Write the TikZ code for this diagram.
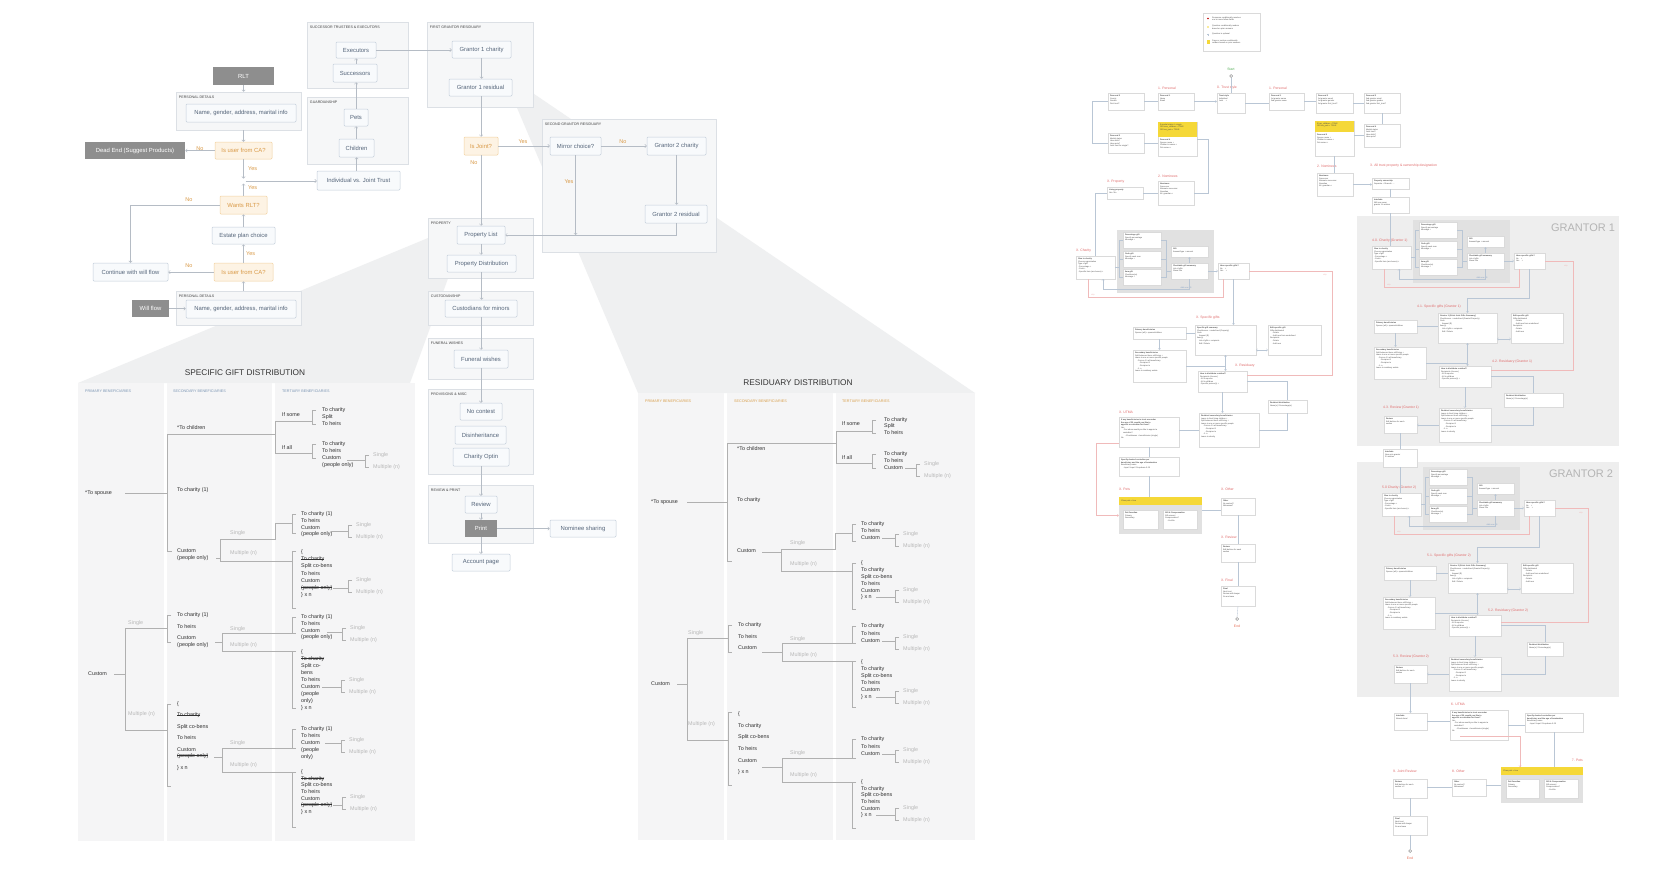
\documentclass[tikz,border=0pt]{standalone}
\usepackage{fontspec}
\setmainfont{Liberation Sans}
\usetikzlibrary{arrows.meta,calc,shadows}

\definecolor{grpbg}{HTML}{F6F7F8}
\definecolor{grpln}{HTML}{DCE0E5}
\definecolor{boxbg}{HTML}{F8FAFC}
\definecolor{boxln}{HTML}{C3CEDA}
\definecolor{boxtx}{HTML}{55657A}
\definecolor{decbg}{HTML}{FDF3E4}
\definecolor{decln}{HTML}{F2D1A0}
\definecolor{dectx}{HTML}{D99A48}
\definecolor{darkbx}{HTML}{8E8E8E}
\definecolor{arln}{HTML}{B5BCC5}
\definecolor{wedge}{HTML}{EFF0F1}
\definecolor{colbg}{HTML}{F5F5F6}
\definecolor{trln}{HTML}{B0B0B0}
\definecolor{trtx}{HTML}{2F2F2F}
\definecolor{trgr}{HTML}{B8B8B8}
\definecolor{hdblue}{HTML}{7C96B4}
\definecolor{hdorng}{HTML}{D9A04E}
\definecolor{panel}{HTML}{EEEEEE}
\definecolor{inner}{HTML}{E1E1E1}
\definecolor{secred}{HTML}{E06A6A}
\definecolor{skipred}{HTML}{F0BABA}
\definecolor{yel}{HTML}{F5D838}
\definecolor{cardln}{HTML}{DADADA}
\definecolor{cdln}{HTML}{B9C6D5}
\definecolor{addbl}{HTML}{86A2C6}
\definecolor{startgr}{HTML}{4DAA50}
\definecolor{grant}{HTML}{B4B4B4}

\tikzset{
 grp/.style={draw=grpln,fill=grpbg,line width=0.5pt,inner sep=0pt},
 grplbl/.style={font=\fontsize{3.6}{4}\selectfont,text=black!75,anchor=north west,inner sep=0pt},
 bx/.style={draw=boxln,fill=boxbg,rounded corners=1pt,text=boxtx,font=\fontsize{5.9}{7}\selectfont,inner sep=0pt,line width=0.5pt},
 dec/.style={bx,draw=decln,fill=decbg,text=dectx},
 dk/.style={bx,draw=none,fill=darkbx,text=white,rounded corners=0pt},
 ar/.style={draw=arln,line width=0.5pt,-{Straight Barb[length=1.6pt,width=3.2pt]}},
 yn/.style={text=dectx,font=\fontsize{5.5}{6}\selectfont,inner sep=0pt},
 tl/.style={draw=trln,line width=0.5pt},
 tt/.style={text=trtx,font=\fontsize{5.4}{6}\selectfont,inner sep=0pt,anchor=west},
 tg/.style={tt,text=trgr},
 colhd/.style={font=\fontsize{3.7}{4}\selectfont,inner sep=0pt,anchor=west},
 ttl/.style={font=\fontsize{8.3}{9}\selectfont,text=black!80,inner sep=0pt},
 crd/.style={draw=cardln,fill=white,line width=0.3pt,inner sep=0pt,drop shadow={shadow xshift=0.3pt,shadow yshift=-0.6pt,opacity=0.12}},
 crdtx/.style={font=\fontsize{2}{2.6}\selectfont,text=black!70,inner sep=0pt,align=left,anchor=north west},
 sec/.style={text=secred,font=\fontsize{3.4}{4}\selectfont,inner sep=0pt,anchor=west},
 cl/.style={draw=cdln,line width=0.35pt},
 cn/.style={cl,-{Straight Barb[length=1.2pt,width=2.4pt]}},
 cnb/.style={cl,{Straight Barb[length=1.2pt,width=2.4pt]}-{Straight Barb[length=1.2pt,width=2.4pt]}},
 sk/.style={draw=skipred,line width=0.35pt},
 skl/.style={text=skipred,font=\fontsize{2}{2.4}\selectfont,inner sep=0pt},
 pgrp/.style={fill=inner,inner sep=0pt},
}

% struck-through words
\newlength{\strkw}
\newcommand{\strk}[1]{\settowidth{\strkw}{#1}\rlap{\rule[0.55ex]{\strkw}{0.35pt}}#1}
% box from its two corners
\newcommand{\nd}[6]{\node[#1,minimum width={(#5)-(#3)},minimum height={(#6)-(#4)}] (#2) at ({((#3)+(#5))/2},{((#4)+(#6))/2})}
% white card with small text
\newcommand{\crd}[6]{\node[crd,minimum width={(#4)-(#2)},minimum height={(#5)-(#3)}] (#1) at ({((#2)+(#4))/2},{((#3)+(#5))/2}) {};
 \node[crdtx] (#1t) at (#2+1.8,#3+1.8) {#6};}
% card with a yellow condition on top
\newcommand{\ycrd}[8]{\node[crd,minimum width={(#4)-(#2)},minimum height={(#5)-(#3)}] (#1) at ({((#2)+(#4))/2},{((#3)+(#5))/2}) {};
 \fill[yel] (#2,#3) rectangle (#4,#6);
 \node[crdtx] (#1h) at (#2+1.8,#3+1.5) {#7};
 \node[crdtx] (#1t) at (#2+1.8,#6+2) {#8};}
% tree helpers
\newcommand{\brk}[3]{\draw[tl] (#1+4,#2) -- (#1,#2) -- (#1,#3) -- (#1+4,#3);}
\newcommand{\sm}[3]{\brk{#2}{#3-6}{#3+6}\node[tg] (#1s) at (#2+8,#3-6) {Single};\node[tg] (#1m) at (#2+8,#3+6) {Multiple (n)};}
\newcommand{\items}[5]{\foreach \t [count=\i] in {#5} \node[tt] (#1\i) at (#2,{#3+(\i-1)*#4}) {\t};}
% charity cluster, local coordinates
\newcommand{\charity}[2]{%
 \fill[inner] (41,-26) rectangle (138,37);
 \node[sec] (#1lb) at (0,-5) {#2};
 \crd{#1gtc}{0}{0}{39}{23}{\textbf{Give to charity}\\Choose organization\\Type of gift\\- Percentage +\\- Cash +\\- Specific item (as chosen) +}
 \crd{#1pg}{47}{-24}{85}{-8}{\textbf{Percentage gift}\\Specify percentage\\Message +}
 \crd{#1cg}{47}{-5}{85}{11}{\textbf{Cash gift}\\Specify cash sum\\Message +}
 \crd{#1ig}{47}{13}{85}{29}{\textbf{Item gift}\\Checkbox(es)\\Message +}
 \crd{#1gf}{95}{-10}{132}{1}{\textbf{Gift}\\Amount/type + amount}
 \crd{#1cs}{95}{7}{132}{23}{\textbf{Charitable gift summary}\\List of gifts\\Share info}
 \crd{#1hs}{142}{7}{173}{23}{\textbf{Have specific gifts?}\\No \quad +\\Yes \quad +}
 \node[font=\fontsize{2}{2.4}\selectfont,text=addbl,inner sep=0pt] (#1ad) at (110,32) {Add new gift};
 \foreach \g in {pg,cg,ig} {\draw[cl] (#1gtc.east) -- (43,11.5) |- (#1\g.west); \draw[cl] (#1\g.east) -- ++(5,0) |- (#1cs.west);}
 \draw[cn] (#1cs.north) -- (#1gf.south);
 \draw[cn] (#1cs.east) -- (#1hs.west);
 \draw[cn] (#1cs.south) -- ++(0,10) -| (27,23);
 \draw[sk] (12,23) -- (12,41) -- (147,41) -- (147,23);
 \node[skl] (#1sk) at (17,38.5) {skip};
}

\begin{document}
\begin{tikzpicture}[x=1pt,y=-1pt]
\useasboundingbox (0,0) rectangle (1669,873);
\fill[white] (0,0) rectangle (1669,873);
% zoom wedges and the two distribution panels
\fill[wedge] (457,226) -- (462,240) -- (410,383) -- (78,383) -- cycle;
\fill[wedge] (512,79) -- (975,393) -- (638,393) -- (512,96) -- cycle;
\foreach \a/\b in {78/164,167/272,275/415} \fill[colbg] (\a,383) rectangle (\b,841);
\foreach \a/\b in {638/724,727/833,836/975} \fill[colbg] (\a,393) rectangle (\b,840);

% groups of the main flow
\foreach \n/\a/\b/\c/\d/\l in {gPD1/176/92/301/130/PERSONAL DETAILS, gPD2/176/291/301/325/PERSONAL DETAILS,
  gSTE/307/22/408/88/SUCCESSOR TRUSTEES \& EXECUTORS, gGRD/307/97/408/164/GUARDIANSHIP,
  gFGR/427/22/533/107/FIRST GRANTOR RESIDUARY, gSGR/542/119/716/252/SECOND GRANTOR RESIDUARY,
  gPRP/428/218/533/278/PROPERTY, gCST/428/291/533/325/CUSTODIANSHIP, gFUN/428/338/533/379/FUNERAL WISHES,
  gPRV/428/389/533/474/PROVISIONS \& MISC, gREV/428/485/533/543/REVIEW \& PRINT}
 {\nd{grp}{\n}{\a}{\b}{\c}{\d} {}; \node[grplbl] (l\n) at ($(\n.north west)+(3,4)$) {\l};}

\nd{dk}{rlt}{213}{67}{274}{85} {RLT};
\nd{bx}{name1}{186}{104}{296}{122} {Name, gender, address, marital info};
\nd{dec}{ca1}{215}{142}{272}{159} {Is user from CA?};
\nd{dk}{dead}{85}{142}{185}{159} {Dead End (Suggest Products)};
\nd{dec}{want}{220}{196}{267}{214} {Wants RLT?};
\nd{bx}{estate}{212}{227}{275}{244} {Estate plan choice};
\nd{dec}{ca2}{214}{263}{273}{281} {Is user from CA?};
\nd{bx}{cont}{93}{263}{168}{281} {Continue with will flow};
\nd{bx}{name2}{186}{300}{296}{318} {Name, gender, address, marital info};
\nd{dk}{will}{132}{300}{169}{317} {Will flow};
\nd{bx}{ivj}{317}{171}{400}{190} {Individual vs. Joint Trust};
\nd{bx}{chil}{339}{139}{374}{157} {Children};
\nd{bx}{pets}{344}{109}{368}{126} {Pets};
\nd{bx}{succ}{333}{64}{377}{82} {Successors};
\nd{bx}{exec}{336}{42}{376}{58} {Executors};
\nd{bx}{g1c}{452}{41}{511}{58} {Grantor 1 charity};
\nd{bx}{g1r}{449}{79}{512}{96} {Grantor 1 residual};
\nd{dec}{joint}{464}{137}{498}{155} {Is Joint?};
\nd{bx}{mirror}{550}{137}{601}{155} {Mirror choice?};
\nd{bx}{g2c}{647}{137}{706}{155} {Grantor 2 charity};
\nd{bx}{g2r}{645}{205}{707}{223} {Grantor 2 residual};
\nd{bx}{plist}{457}{226}{505}{244} {Property List};
\nd{bx}{pdist}{447}{255}{516}{272} {Property Distribution};
\nd{bx}{cust}{445}{300}{517}{317} {Custodians for minors};
\nd{bx}{fun}{454}{350}{508}{368} {Funeral wishes};
\nd{bx}{noc}{460}{403}{502}{420} {No contest};
\nd{bx}{dis}{455}{426}{506}{444} {Disinheritance};
\nd{bx}{chop}{453}{448}{509}{466} {Charity Optin};
\nd{bx}{rev}{465}{496}{497}{513} {Review};
\nd{dk}{print}{465}{520}{497}{537} {Print};
\nd{bx}{nom}{550}{520}{616}{537} {Nominee sharing};
\nd{bx}{acct}{452}{554}{510}{571} {Account page};

\coordinate (jn) at (243.5,181);
\coordinate (mj) at (575.5,235);
\draw[ar] (rlt.south) -- (rlt.south |- gPD1.north);
\draw[ar] (ca1.north |- gPD1.south) -- (ca1.north);
\draw[ar] (ca1.west) -- (dead.east);
\draw[ar] (ca1.south) -- ($(jn)+(0,-2.5)$);
\draw[ar] (want.north) -- ($(jn)+(0,2.5)$);
\draw[ar] ($(jn)+(2,0)$) -- (jn -| ivj.west);
\draw[ar] (want.west) -| (cont.north);
\draw[ar] (estate.north) -- (want.south);
\draw[ar] (ca2.north) -- (ca2.north |- estate.south);
\draw[ar] (ca2.west) -- (cont.east);
\draw[ar] (ca2.south |- gPD2.north) -- (ca2.south);
\draw[ar] (will.east) -- (will.east -| name2.west);
\draw[ar] (chil.south |- ivj.north) -- (chil.south);
\draw[ar] (pets.south |- chil.north) -- (pets.south);
\draw[ar] (pets.north) -- (pets.north |- succ.south);
\draw[ar] (exec.south |- succ.north) -- (exec.south);
\draw[ar] (exec.east) -- (exec.east -| g1c.west);
\draw[ar] (g1c.south) -- (g1c.south |- g1r.north);
\draw[ar] (joint.north |- g1r.south) -- (joint.north);
\draw[ar] (joint.east) -- (mirror.west);
\draw[ar] (joint.south) -- (joint.south |- plist.north);
\draw[ar] (mirror.east) -- (g2c.west);
\draw[ar] (mirror.south) -- (mj);
\draw[ar] (g2c.south) -- (g2c.south |- g2r.north);
\draw[ar] (g2r.south) |- (plist.east);
\draw[ar] (plist.south) -- (plist.south |- pdist.north);
\draw[ar] (pdist.south) -- (pdist.south |- cust.north);
\draw[ar] (cust.south) -- (cust.south |- fun.north);
\draw[ar] (fun.south) -- (fun.south |- noc.north);
\draw[ar] (chop.south) -- (chop.south |- rev.north);
\draw[ar] (rev.south) -- (print.north);
\draw[ar] (print.east) -- (nom.west);
\draw[ar] (print.south) -- (print.south |- acct.north);
\node[yn] (yn1) at (200,149) {No};
\node[yn,anchor=west] (yn2) at (248,169) {Yes};
\node[yn,anchor=west] (yn3) at (248,188) {Yes};
\node[yn] (yn4) at (189,200) {No};
\node[yn,anchor=west] (yn5) at (246,254) {Yes};
\node[yn] (yn6) at (189,266) {No};
\node[yn] (yn7) at (523,142) {Yes};
\node[yn] (yn8) at (474,163) {No};
\node[yn] (yn9) at (623,142) {No};
\node[yn] (yn10) at (569,182) {Yes};

% specific gift distribution
\node[ttl] (tsg) at (245,373) {SPECIFIC GIFT DISTRIBUTION};
\node[colhd,text=hdblue] (hs1) at (85,391) {PRIMARY BENEFICIARIES};
\node[colhd,text=hdblue] (hs2) at (173,391) {SECONDARY BENEFICIARIES};
\node[colhd,text=hdblue] (hs3) at (282,391) {TERTIARY BENEFICIARIES};
\node[tt] (ss0) at (85,493) {*To spouse};
\draw[tl] (125,493) -- (167,493);
\draw[tl] (275,434) -- (167,434) -- (167,551) -- (172,551);
\node[tt] (ss1) at (177,428) {*To children};
\node[tt] (ss2) at (177,490) {To charity (1)};
\items{ss3}{177}{551}{7}{Custom,(people only)}
\draw[tl] (216,558) -- (220,558);
\draw[tl] (292,523) -- (275,523) -- (275,539) -- (220,539) -- (220,561) -- (292,561);
\node[tg] (ss4) at (230,533) {Single};
\node[tg] (ss5) at (230,553) {Multiple (n)};
\brk{292}{514}{533}
\items{ssa}{301}{514}{6.7}{To charity (1),To heirs,Custom,(people only)}
\draw[tl] (331,531) -- (348,531); \sm{ssam}{348}{531}
\brk{292}{551}{608}
\items{ssb}{301}{552}{7.2}{\{,\strk{To charity},Split co-bens,To heirs,Custom,\strk{(people only)},\} x n}
\draw[tl] (333,588) -- (348,588); \sm{ssbm}{348}{586}
\draw[tl] (312,421) -- (275,421) -- (275,453) -- (312,453);
\node[tt] (ss6) at (282,415) {If some};
\node[tt] (ss7) at (282,448) {If all};
\brk{312}{410}{424} \items{ssc}{322}{410}{7}{To charity,Split,To heirs}
\brk{312}{444}{458} \items{ssd}{322}{444}{7}{To charity,To heirs,Custom,(people only)}
\draw[tl] (347,460) -- (365,460); \sm{ssdm}{365}{461}
% the custom primary branch
\node[tt] (sc0) at (88,674) {Custom};
\draw[tl] (114,674) -- (125,674);
\draw[tl] (167,628) -- (125,628) -- (125,730) -- (167,730);
\node[tg] (sc1) at (128,623) {Single};
\node[tg] (sc2) at (128,714) {Multiple (n)};
\brk{167}{615}{642} \items{sce}{177}{615}{11.5}{To charity (1),To heirs,Custom}
\node[tt] (sc3) at (177,645) {(people only)};
\draw[tl] (215,642) -- (222,642);
\draw[tl] (292,633) -- (222,633) -- (222,651) -- (292,651);
\node[tg] (sc4) at (230,629) {Single};
\node[tg] (sc5) at (230,645) {Multiple (n)};
\brk{292}{617}{633} \items{scf}{301}{617}{6.7}{To charity (1),To heirs,Custom,(people only)}
\draw[tl] (327,632) -- (342,632); \sm{scfm}{342}{634}
\brk{292}{651}{708} \items{scg}{301}{652}{7}{\{,\strk{To charity},Split co-,bens,To heirs,Custom,{(people},{only)},\} x n}
\draw[tl] (322,687) -- (341,687); \sm{scgm}{341}{686}
\brk{167}{704}{786} \items{sch}{177}{704}{11.3}{\{,\strk{To charity},Split co-bens,To heirs,Custom}
\node[tt] (sc6) at (177,756) {\strk{(people only)}};
\node[tt] (sc7) at (177,768) {\} x n};
\draw[tl] (214,757) -- (222,757);
\draw[tl] (292,748) -- (222,748) -- (222,772) -- (292,772);
\node[tg] (sc8) at (230,743) {Single};
\node[tg] (sc9) at (230,765) {Multiple (n)};
\brk{292}{729}{748} \items{sci}{301}{729}{7}{To charity (1),To heirs,Custom,{(people},{only)}}
\draw[tl] (325,743) -- (341,743); \sm{scim}{341}{746}
\brk{292}{772}{827} \items{scj}{301}{772}{6.6}{\{,\strk{To charity},Split co-bens,To heirs,Custom,\strk{(people only)},\} x n}
\draw[tl] (333,805) -- (342,805); \sm{scjm}{342}{803}

% residuary distribution
\node[ttl] (trd) at (798,383) {RESIDUARY DISTRIBUTION};
\node[colhd,text=hdorng] (hr1) at (645,401) {PRIMARY BENEFICIARIES};
\node[colhd,text=hdorng] (hr2) at (734,401) {SECONDARY BENEFICIARIES};
\node[colhd,text=hdorng] (hr3) at (842,401) {TERTIARY BENEFICIARIES};
\node[tt] (rs0) at (651,502) {*To spouse};
\draw[tl] (687,502) -- (727,502);
\draw[tl] (836,443) -- (727,443) -- (727,561) -- (732,561);
\node[tt] (rs1) at (737,449) {*To children};
\node[tt] (rs2) at (737,500) {To charity};
\node[tt] (rs3) at (737,551) {Custom};
\draw[tl] (762,552) -- (781,552);
\draw[tl] (852,533) -- (835,533) -- (835,549) -- (781,549) -- (781,571) -- (852,571);
\node[tg] (rs4) at (790,543) {Single};
\node[tg] (rs5) at (790,564) {Multiple (n)};
\draw[tl] (872,431) -- (836,431) -- (836,463) -- (872,463);
\node[tt] (rs6) at (842,424) {If some};
\node[tt] (rs7) at (842,458) {If all};
\brk{872}{420}{433} \items{rsa}{884}{420}{6.5}{To charity,Split,To heirs}
\brk{872}{454}{468} \items{rsb}{884}{454}{7}{To charity,To heirs,Custom}
\draw[tl] (905,468) -- (916,468); \sm{rsbm}{916}{470}
\brk{852}{524}{541} \items{rsc}{861}{524}{7}{To charity,To heirs,Custom}
\draw[tl] (882,538) -- (895,538); \sm{rscm}{895}{540}
\brk{852}{563}{609} \items{rsd}{861}{563}{6.8}{\{,To charity,Split co-bens,To heirs,Custom,\} x n}
\draw[tl] (876,597) -- (895,597); \sm{rsdm}{895}{596}
\node[tt] (rc0) at (651,684) {Custom};
\draw[tl] (677,684) -- (687,684);
\draw[tl] (728,638) -- (687,638) -- (687,740) -- (728,740);
\node[tg] (rc1) at (688,633) {Single};
\node[tg] (rc2) at (688,724) {Multiple (n)};
\brk{728}{625}{652} \items{rse}{738}{625}{11.5}{To charity,To heirs,Custom}
\draw[tl] (762,652) -- (782,652);
\draw[tl] (852,643) -- (782,643) -- (782,661) -- (852,661);
\node[tg] (rc3) at (790,639) {Single};
\node[tg] (rc4) at (790,655) {Multiple (n)};
\brk{852}{626}{643} \items{rsf}{861}{626}{7.3}{To charity,To heirs,Custom}
\draw[tl] (882,641) -- (895,641); \sm{rsfm}{895}{643}
\brk{852}{661}{707} \items{rsg}{861}{662}{7}{\{,To charity,Split co-bens,To heirs,Custom,\} x n}
\draw[tl] (876,697) -- (895,697); \sm{rsgm}{895}{697}
\brk{728}{712}{785} \items{rsh}{738}{714}{11.6}{\{,To charity,Split co-bens,To heirs,Custom,\} x n}
\draw[tl] (762,767) -- (782,767);
\draw[tl] (852,758) -- (782,758) -- (782,782) -- (852,782);
\node[tg] (rc5) at (790,753) {Single};
\node[tg] (rc6) at (790,775) {Multiple (n)};
\brk{852}{739}{758} \items{rsi}{861}{739}{7.5}{To charity,To heirs,Custom}
\draw[tl] (882,754) -- (895,754); \sm{rsim}{895}{756}
\brk{852}{782}{828} \items{rsj}{861}{782}{6.6}{\{,To charity,Split co-bens,To heirs,Custom,\} x n}
\draw[tl] (876,815) -- (895,815); \sm{rsjm}{895}{814}

% questionnaire map, right half
\fill[panel] (1357,216) rectangle (1619,446);
\fill[panel] (1357,462) rectangle (1619,697);
\node[font=\fontsize{11}{12}\selectfont,text=grant,inner sep=0pt] (gt1) at (1583,228) {GRANTOR 1};
\node[font=\fontsize{11}{12}\selectfont,text=grant,inner sep=0pt] (gt2) at (1581,474) {GRANTOR 2};

\crd{leg}{1203}{13}{1260}{51}{}
\fill[red!75!black] (1208,18.5) circle (0.9);
\node[crdtx] (lg1) at (1212,16.5) {Response conditionally resolves\\one or more follow fields};
\fill[yel] (1208,27) circle (0.9);
\node[crdtx] (lg2) at (1212,25) {Question conditionally renders\\based on prior answers};
\draw[cdln,line width=0.4pt] (1207,34.5) -- (1209,34.5) (1208,33.5) -- (1208,35.5);
\node[crdtx] (lg3) at (1212,33.2) {Question is optional};
\fill[yel] (1206.5,39.5) rectangle (1209.5,44);
\node[crdtx] (lg4) at (1212,39.5) {Page or section conditionally\\renders based on prior answers};

\node[text=startgr,font=\fontsize{3.4}{4}\selectfont,inner sep=0pt] (stl) at (1231,69) {Start};
\node[circle,draw=black!55,line width=0.35pt,inner sep=0pt,minimum size=3pt] (st) at (1231,76) {};
\node[sec] (s1a) at (1158,88) {1. Personal};
\node[sec] (s0) at (1217,88) {0. Trust style};
\node[sec] (s1b) at (1269,88) {1. Personal};
\node[sec] (s2a) at (1158,176) {2. Nominees};
\node[sec] (sxp) at (1107,182) {X. Property};
\node[sec] (s2b) at (1317,166) {2. Nominees};
\node[sec] (s3) at (1370,166) {3. All trust property \& ownership designation};

\crd{p2l}{1108}{93}{1144}{110}{\textbf{Personal 2}\\County\\Gender\\First trust?}
\crd{p1l}{1158}{93}{1194}{110}{\textbf{Personal 1}\\Name\\Email}
\crd{ts}{1217}{93}{1245}{113}{\textbf{Trust style}\\Individual\\Joint \quad +}
\crd{p1r}{1269}{93}{1304}{110}{\textbf{Personal 1}\\1st grantor name\\2nd grantor name}
\crd{p2r}{1316}{93}{1353}{113}{\textbf{Personal 2}\\1st grantor email\\1st grantor gender\\1st grantor first\_trust?}
\crd{p3r}{1364}{93}{1400}{113}{\textbf{Personal 3}\\2nd grantor email\\2nd grantor gender\\2nd grantor first\_trust?}
\crd{p3l}{1108}{133}{1144}{153}{\textbf{Personal 3}\\Marital status\\Have kids?\\Have pets?\\Joint trust for single?}
\ycrd{y4l}{1158}{122}{1197}{156}{137}{If marital status != single\\OR have\_children = TRUE\\OR has\_pets = TRUE}{\textbf{Personal 4}\\Spouse name +\\Children's names +\\Pet names +}
\ycrd{y4r}{1315}{121}{1354}{156}{132}{If has\_children = TRUE\\OR has\_pets = TRUE}{\textbf{Personal 5}\\Spouse name +\\Children's names +\\Pet names +}
\crd{p4r}{1364}{124}{1400}{147}{\textbf{Personal 4}\\Marital status\\Joint trust?\\Have kids?\\Have pets?}
\crd{nml}{1158}{181}{1194}{205}{\textbf{Nominees}\\Successor\\Alternate successor\\Guardian\\Alt. guardian +}
\crd{liv}{1107}{187}{1143}{199}{\textbf{Living property}\\Yes / No}
\crd{nmr}{1317}{173}{1353}{196}{\textbf{Nominees}\\Successor\\Alternate successor\\Guardian\\Alt. guardian +}
\crd{pow}{1372}{178}{1409}{189}{\textbf{Property ownership}\\Separate + Shared + ...}
\crd{itr}{1372}{197}{1409}{213}{\textbf{Interlude}\\Will now cover\\grantor 1's wishes}

\begin{scope}[shift={(1076,256)}]\charity{x}{X. Charity}\end{scope}
\begin{scope}[shift={(1372,246)}]\charity{ga}{4.0. Charity (Grantor 1)}\end{scope}
\begin{scope}[shift={(1382,493)}]\charity{gb}{5.0 Charity (Grantor 2)}\end{scope}

% single trust column
\node[sec] (sxs) at (1196,318) {X. Specific gifts};
\crd{xpb}{1133}{327}{1186}{339}{\textbf{Primary beneficiaries}\\Spouse (all) + spouse/children}
\crd{xsgs}{1195}{325}{1256}{355}{\textbf{Specific gift summary}\\Checkboxes + underlined (Property)\\Cash\\\quad Amount (\$)\\Item(s)\\\quad List of gifts + recipients\\\quad Edit / Delete}
\crd{xesg}{1268}{325}{1321}{355}{\textbf{Edit specific gift}\\Gifts distributed\\\quad - Delete\\\quad - Add new from underlined\\Recipients\\\quad - Delete\\\quad - Add new}
\crd{xsb}{1133}{350}{1186}{382}{\textbf{Secondary beneficiaries}\\Split between those still living +\\Leave to one or more specific people\\\quad - Person 1's all-beneficiary\\\quad\quad - Recipient 1\\\quad\quad - Recipient n\\\quad - 1..n\\Leave to residuary estate}
\node[sec] (sxr) at (1235,366) {X. Residuary};
\crd{xhtd}{1198}{371}{1247}{392}{\textbf{How to distribute residual?}\\Recipients (choose)\\- All to spouse\\- All to children\\- Specific person(s) +}
\crd{xrd}{1268}{400}{1307}{413}{\textbf{Residual distribution}\\Name(s) / Percentage(s)}
\node[sec] (sxu) at (1119,412) {X. UTMA};
\crd{xut}{1119}{417}{1179}{447}{\textbf{If any beneficiaries in trust are under}\\\textbf{the age of 25, would you like to}\\\textbf{appoint a custodian for them?}\\Yes\\\quad - For whom would you like to appoint a\\\quad custodian?\\\quad\quad - Checkboxes + beneficiaries (single)\\No}
\crd{xrsb}{1199}{413}{1259}{447}{\textbf{Residual secondary beneficiaries}\\Leave to their living children +\\Split between those still living +\\Leave to one or more specific people\\\quad - Person 1's all-beneficiary\\\quad\quad - Recipient 1\\\quad\quad - Recipient n\\\quad - 1..n\\Leave to charity}
\crd{xsd}{1119}{457}{1179}{476}{\textbf{Specify desired custodian per}\\\textbf{beneficiary and the age of termination}\\Beneficiary name\\\quad - Input / Input / Dropdown 0-25}
\node[sec] (sxpt) at (1119,489) {X. Pets};
\nd{pgrp}{xpet}{1119}{497}{1202}{534} {};
\fill[yel] (1119,497) rectangle (1202,505);
\node[crdtx] (xpeth) at (1121,499.5) {If has pets = true};
\crd{xpgd}{1123}{510}{1158}{529}{\textbf{Pet Guardian}\\Primary\\Secondary}
\crd{xgcp}{1163}{510}{1197}{529}{\textbf{Gift \& Compensation}\\Gift amount\\Compensation?\\\quad - Yes/No}
\node[sec] (sxo) at (1221,489) {X. Other};
\crd{xoth}{1221}{498}{1255}{515}{\textbf{Other}\\No contest?\\Witnesses?}
\node[sec] (sxv) at (1221,537) {X. Review};
\crd{xrvw}{1221}{544}{1255}{562}{\textbf{Review}\\Edit buttons for each\\section}
\node[sec] (sxf) at (1221,580) {X. Final};
\crd{xfin}{1221}{586}{1255}{606}{\textbf{Final}\\Next trust\\Review with lawyer\\Go and save}
\node[circle,draw=black!55,line width=0.35pt,inner sep=0pt,minimum size=3pt] (xend) at (1237,619) {};
\node[text=secred!80!orange,font=\fontsize{3.4}{4}\selectfont,inner sep=0pt] (xendl) at (1237,626) {End};

% grantor 1
\node[sec] (sa1) at (1417,307) {4.1. Specific gifts (Grantor 1)};
\crd{gapb}{1374}{320}{1417}{333}{\textbf{Primary beneficiaries}\\Spouse (all) + spouse/children}
\crd{gags}{1438}{313}{1497}{343}{\textbf{Grantor 1 (Stick Joint Gifts Summary)}\\Checkboxes + underlined (Grantor/Property)\\Cash\\\quad Amount (\$)\\Item(s)\\\quad List of gifts + recipients\\\quad Edit / Delete}
\crd{gaes}{1511}{313}{1563}{343}{\textbf{Edit specific gift}\\Gifts distributed\\\quad - Delete\\\quad - Add new from underlined\\Recipients\\\quad - Delete\\\quad - Add new}
\crd{gasb}{1374}{347}{1426}{379}{\textbf{Secondary beneficiaries}\\Split between those still living +\\Leave to one or more specific people\\\quad - Person 1's all-beneficiary\\\quad\quad - Recipient 1\\\quad\quad - Recipient n\\\quad - 1..n\\Leave to residuary estate}
\node[sec] (sa2) at (1492,362) {4.2. Residuary (Grantor 1)};
\crd{gahd}{1439}{366}{1491}{387}{\textbf{How to distribute residual?}\\Recipients (choose)\\- All to spouse\\- All to children\\- Specific person(s) +}
\crd{gard}{1504}{393}{1563}{407}{\textbf{Residual distribution}\\Name(s) / Percentage(s)}
\node[sec] (sa3) at (1383,408) {4.3. Review (Grantor 1)};
\crd{garv}{1384}{416}{1417}{433}{\textbf{Review}\\Edit buttons for each\\section}
\crd{gars}{1439}{408}{1491}{442}{\textbf{Residual secondary beneficiaries}\\Leave to their living children +\\Split between those still living +\\Leave to one or more specific people\\\quad - Person 1's all-beneficiary\\\quad\quad - Recipient 1\\\quad\quad - Recipient n\\\quad - 1..n\\Leave to charity}
\crd{gain}{1383}{449}{1417}{467}{\textbf{Interlude}\\Now onto grantor\\2's wishes}

% grantor 2
\node[sec] (sb1) at (1427,556) {5.1. Specific gifts (Grantor 2)};
\crd{gbpb}{1384}{566}{1436}{580}{\textbf{Primary beneficiaries}\\Spouse (all) + spouse/children}
\crd{gbgs}{1448}{563}{1507}{593}{\textbf{Grantor 2 (Stick Joint Gifts Summary)}\\Checkboxes + underlined (Grantor/Property)\\Cash\\\quad Amount (\$)\\Item(s)\\\quad List of gifts + recipients\\\quad Edit / Delete}
\crd{gbes}{1521}{563}{1573}{593}{\textbf{Edit specific gift}\\Gifts distributed\\\quad - Delete\\\quad - Add new from underlined\\Recipients\\\quad - Delete\\\quad - Add new}
\crd{gbsb}{1383}{597}{1435}{629}{\textbf{Secondary beneficiaries}\\Split between those still living +\\Leave to one or more specific people\\\quad - Person 1's all-beneficiary\\\quad\quad - Recipient 1\\\quad\quad - Recipient n\\\quad - 1..n\\Leave to residuary estate}
\node[sec] (sb2) at (1488,611) {5.2. Residuary (Grantor 2)};
\crd{gbhd}{1449}{615}{1501}{636}{\textbf{How to distribute residual?}\\Recipients (choose)\\- All to spouse\\- All to children\\- Specific person(s) +}
\crd{gbrd}{1527}{642}{1563}{656}{\textbf{Residual distribution}\\Name(s) / Percentage(s)}
\node[sec] (sb3) at (1393,657) {5.3. Review (Grantor 2)};
\crd{gbrv}{1394}{665}{1427}{683}{\textbf{Review}\\Edit buttons for each\\section}
\crd{gbrs}{1449}{657}{1501}{691}{\textbf{Residual secondary beneficiaries}\\Leave to their living children +\\Split between those still living +\\Leave to one or more specific people\\\quad - Person 1's all-beneficiary\\\quad\quad - Recipient 1\\\quad\quad - Recipient n\\\quad - 1..n\\Leave to charity}
\crd{gbin}{1394}{713}{1427}{730}{\textbf{Interlude}\\Almost done!}
\node[sec] (sb6) at (1451,704) {6. UTMA};
\crd{gbut}{1450}{710}{1508}{740}{\textbf{If any beneficiaries in trust are under}\\\textbf{the age of 25, would you like to}\\\textbf{appoint a custodian for them?}\\Yes\\\quad - For whom would you like to appoint a\\\quad custodian?\\\quad\quad - Checkboxes + beneficiaries (single)\\No}
\crd{gbsd}{1525}{713}{1583}{732}{\textbf{Specify desired custodian per}\\\textbf{beneficiary and the age of termination}\\Beneficiary name\\\quad - Input / Input / Dropdown 0-25}
\node[sec,anchor=east] (sb7) at (1583,760) {7. Pets};
\nd{pgrp}{gbpt}{1501}{767}{1583}{803} {};
\fill[yel] (1501,767) rectangle (1583,775);
\node[crdtx] (gbpth) at (1503,769.5) {If has pets = true};
\crd{gbpg}{1506}{779}{1539}{798}{\textbf{Pet Guardian}\\Primary\\Secondary}
\crd{gbgc}{1544}{779}{1578}{798}{\textbf{Gift \& Compensation}\\Gift amount\\Compensation?\\\quad - Yes/No}
\node[sec] (sb9) at (1393,771) {9. Joint Review};
\node[sec] (sb8) at (1452,771) {8. Other};
\crd{gbrj}{1393}{779}{1427}{798}{\textbf{Review}\\Edit buttons for each\\section x 2}
\crd{gbot}{1452}{779}{1486}{796}{\textbf{Other}\\No contest?\\Witnesses?}
\crd{gbfn}{1393}{816}{1427}{835}{\textbf{Final}\\Next trust\\Review with lawyer\\Go and save}
\node[circle,draw=black!55,line width=0.35pt,inner sep=0pt,minimum size=3pt] (gbend) at (1410,851) {};
\node[text=secred!80!orange,font=\fontsize{3.4}{4}\selectfont,inner sep=0pt] (gbendl) at (1410,858) {End};

% connectors of the map
\draw[cl] (st.south) -- (ts.north);
\draw[cl] (p1l.west) -- (p2l.east);
\draw[cl] (p2l.west) -- ++(-16,0) |- (p3l.west);
\draw[cl] (p3l.east) -- (p3l.east -| y4l.west);
\draw[cl] (y4l.east) -- ++(11,0) |- (nml.east);
\draw[cl] (nml.west) -- (nml.west -| liv.east);
\draw[cl] (liv.west) -| (xgtc.north);
\draw[cn] (p1l.east) -- (p1l.east -| ts.west);
\draw[cl] (ts.east) -- (ts.east -| p1r.west);
\draw[cl] (p1r.east) -- (p1r.east -| p2r.west);
\draw[cl] (p2r.east) -- (p2r.east -| p3r.west);
\draw[cl] (p3r.south) -- (p4r.north);
\draw[cl] (p4r.west) -- (p4r.west -| y4r.east);
\draw[cl] (y4r.south) -- (y4r.south |- nmr.north);
\draw[cn] (nmr.east) -- (nmr.east -| pow.west);
\draw[cl] (pow.south) -- (itr.north);
\draw[cl] (itr.south) -- (itr.south |- gagtc.north);
% single trust column
\draw[cn] (xhs.south) -- (xhs.south |- xsgs.north);
\draw[sk] (xhs.east) -| (1332,375) -- (1247,375);
\node[skl] (xsk2) at (1325,275) {skip};
\draw[cl] (xpb.east) -- (xpb.east -| xsgs.west);
\draw[cn] (xpb.south) -- (xpb.south |- xsb.north);
\draw[cn] (xsb.east) -| (xsgs.south);
\draw[cnb] ([yshift=-10pt]xsgs.east) -- ([yshift=-10pt]xsgs.east -| xesg.west);
\draw[cn] (xsgs.south) -- (xsgs.south |- xhtd.north);
\draw[cn] (xhtd.south) -- (xhtd.south |- xrsb.north);
\draw[cl] (xhtd.east) -| (xrd.north);
\draw[cl] (xrd.south) |- (xrsb.east);
\draw[cl] (xrsb.west) -- (xrsb.west -| xut.east);
\draw[cl] (xut.south) -- (xsd.north);
\draw[cl] (xsd.south) -- (xsd.south |- xpet.north);
\draw[sk,-{Straight Barb[length=1.2pt,width=2.4pt]}] ([yshift=-11pt]xut.west) -- ++(-23,0) |- (xpet.west);
\draw[cl] ([yshift=5pt]xpet.east) -- ([yshift=5pt]xpet.east -| xoth.west);
\draw[cl] (xoth.south) -- (xrvw.north);
\draw[cl] (xrvw.south) -- (xfin.north);
\draw[cl] (xfin.south) -- (xend.north);
% grantor 1
\draw[cn] (gahs.south) -- ++(0,29) -| (gags.north);
\draw[sk] (gahs.east) -| (1573,370) -- (1491,370);
\node[skl] (gask2) at (1566,266) {skip};
\draw[cl] (gapb.east) -- (gapb.east -| gags.west);
\draw[cn] (gapb.south) -- (gapb.south |- gasb.north);
\draw[cn] (gasb.east) -| (gags.south);
\draw[cnb] ([yshift=-11pt]gags.east) -- ([yshift=-11pt]gags.east -| gaes.west);
\draw[cn] (gags.south) -- (gags.south |- gahd.north);
\draw[cn] (gahd.south) -- (gahd.south |- gars.north);
\draw[cl] (gahd.east) -| (gard.north);
\draw[cl] (gard.south) |- (gars.east);
\draw[cn] (gars.west) -- (gars.west -| garv.east);
\draw[cl] (garv.south) -- (garv.south |- gain.north);
\draw[cl] (gain.south) -- (gain.south |- gbgtc.north);
% grantor 2
\draw[cn] (gbhs.south) -- ++(0,31) -| (gbgs.north);
\draw[sk] (gbhs.east) -| (1588,622) -- (1501,622);
\node[skl] (gbsk2) at (1581,513) {skip};
\draw[cl] (gbpb.east) -- (gbpb.east -| gbgs.west);
\draw[cn] (gbpb.south) -- (gbpb.south |- gbsb.north);
\draw[cn] (gbsb.east) -| (gbgs.south);
\draw[cnb] ([yshift=-11pt]gbgs.east) -- ([yshift=-11pt]gbgs.east -| gbes.west);
\draw[cn] (gbgs.south) -- (gbgs.south |- gbhd.north);
\draw[cn] (gbhd.south) -- (gbhd.south |- gbrs.north);
\draw[cl] (gbhd.east) -| (gbrd.north);
\draw[cl] (gbrd.south) |- (gbrs.east);
\draw[cn] (gbrs.west) -- (gbrs.west -| gbrv.east);
\draw[cn] (gbrv.south) -- (gbrv.south |- gbin.north);
\draw[cl] (gbin.east) -- (gbin.east -| gbut.west);
\draw[cl] (gbut.east) -- (gbut.east -| gbsd.west);
\draw[cl] (gbsd.south) -- (gbsd.south |- gbpt.north);
\draw[sk,-{Straight Barb[length=1.2pt,width=2.4pt]}] (1460,736) -| (1520,767);
\draw[cl] (gbpt.west) -- (gbpt.west -| gbot.east);
\draw[cl] (gbot.west) -- (gbot.west -| gbrj.east);
\draw[cl] (gbrj.south) -- (gbfn.north);
\draw[cl] (gbfn.south) -- (gbend.north);
\end{tikzpicture}
\end{document}
